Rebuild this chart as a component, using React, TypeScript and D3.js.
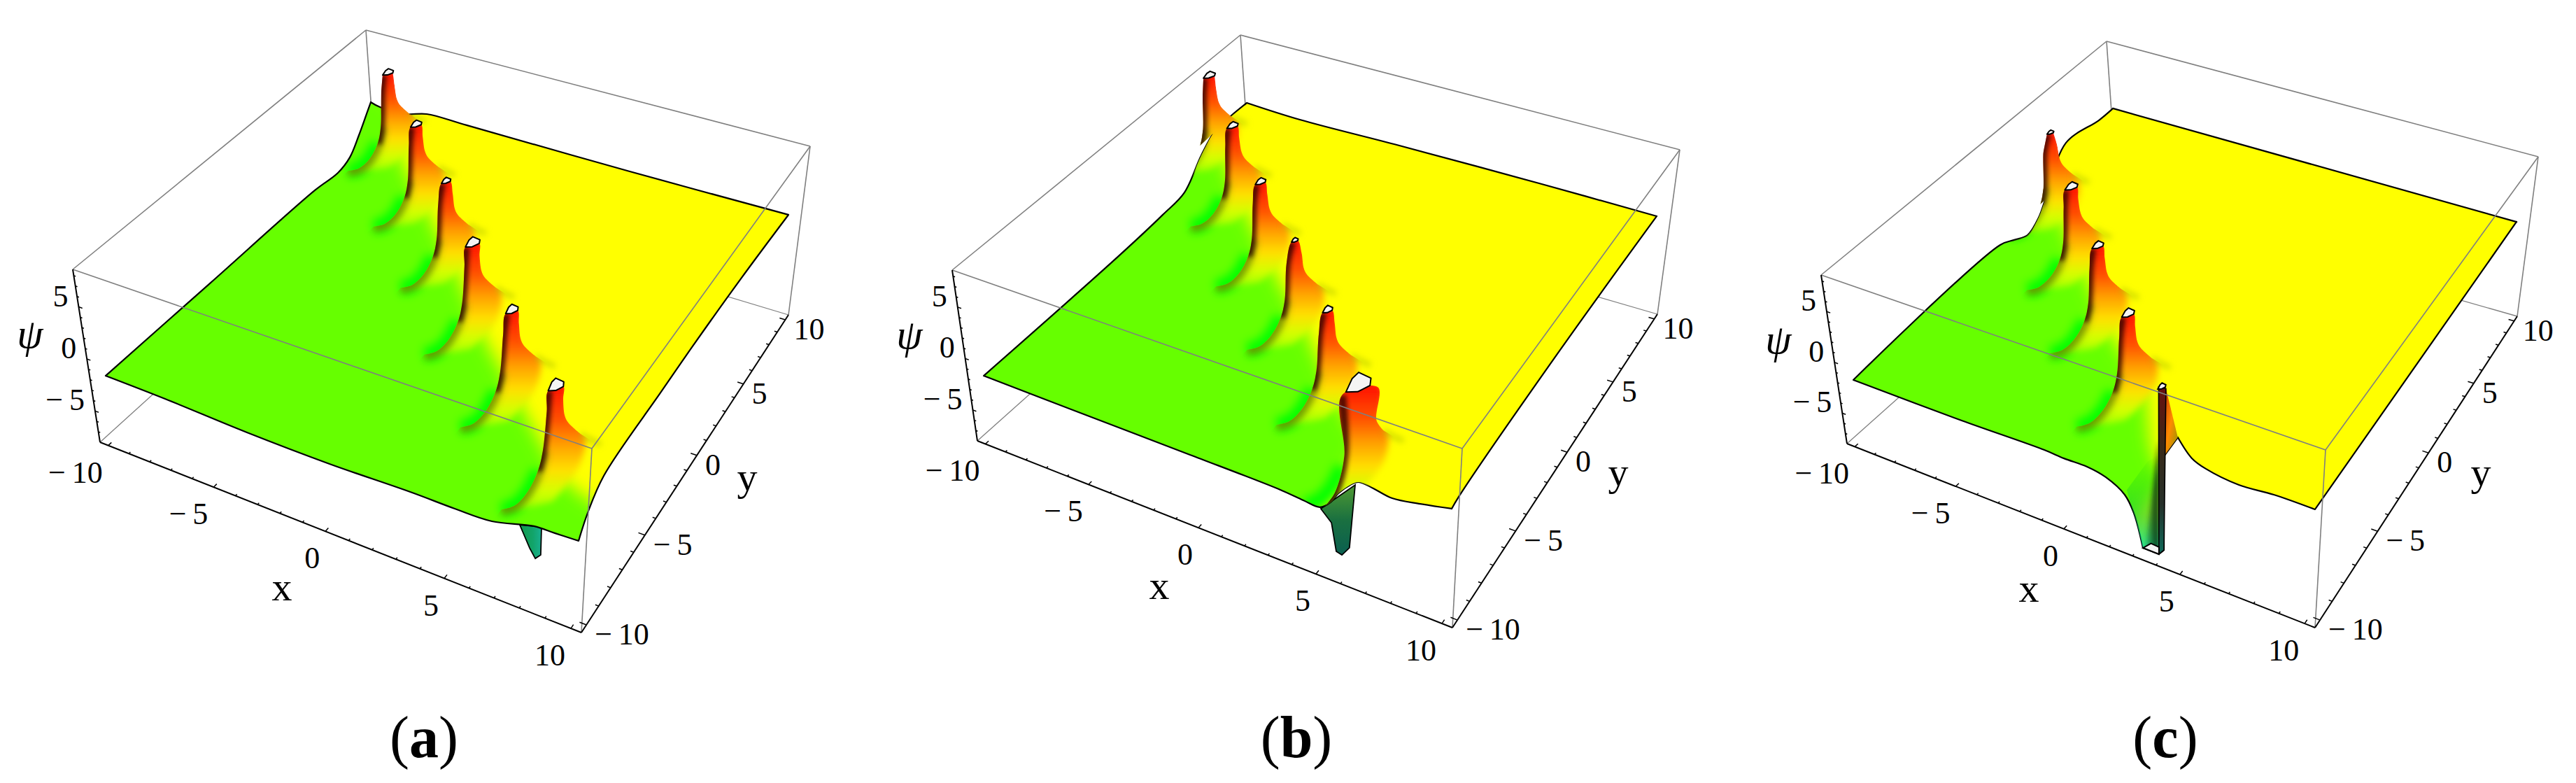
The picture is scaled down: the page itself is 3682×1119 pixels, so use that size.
import * as d3 from "d3";

type Pt = [number, number];
type Triple = [number, number, number];

// plot box of every panel (A-D top face, a-d bottom face)
const FRAMES: Record<string, Record<string, Pt>> = {
  a: { A: [104, 385], B: [846, 641], C: [1158, 209], D: [523, 43], a: [143, 632], b: [831, 904], c: [1127, 450], d: [539, 273] },
  b: { A: [1361, 386], B: [2090, 641], C: [2401, 214], D: [1773, 50], a: [1397, 630], b: [2076, 897], c: [2369, 449], d: [1789, 280] },
  c: { A: [2603, 393], B: [3324, 643], C: [3628, 224], D: [3011, 59], a: [2640, 634], b: [3309, 897], c: [3598, 452], d: [3027, 289] },
};

const xyDomain: Pt = [-10.4, 10.4];
const psiDomain: Pt = [-8, 8.6];
const axisTicks = [-10, -5, 0, 5, 10];
const psiTicks = [-5, 0, 5];

// panel (a): [x, psi] along y=-10, [y, psi] along x=10, [x, psi] along y=10, [y, psi] along x=-10
const frontA: Pt[] = [[-9.97, -1.85], [-7.19, -1.94], [-3.51, -2.23], [0.06, -2.28], [3.49, -2.07], [5.2, -2.08], [6.66, -1.96], [8.26, -0.99], [9.05, -0.92], [9.94, -0.82]];
const rightA: Pt[] = [[-10.14, -0.53], [-9.5, 0.93], [-8.29, 2.34], [-3.48, 2.6], [-0.45, 2.7], [4.48, 2.6], [9.9, 2.18]];
const backA: Pt[] = [[-10.15, 1.7], [-9.67, 1.45], [-8.31, 1.47], [-7.2, 2.08], [-5.16, 2.07], [2.8, 1.98], [9.97, 2.05]];
const leftA: Pt[] = [[-9.97, -1.92], [-3.18, -1.86], [4.77, -1.78], [6.67, -2.05], [7.72, -1.57], [8.6, -0.19], [9.42, 1.34], [9.77, 2.0]];
const tipsA: Pt[] = [[-7.61, 7.59], [-4.43, 4.42], [-1.29, 1.24], [1.61, -1.99], [4.78, -5.0], [7.99, -8.05]];
const ridgeA: Pt[] = [[13, -9], [10, -8.6], [8.26, -7.94], [5.05, -4.89], [1.88, -1.88], [-1.02, 1.35], [-4.16, 4.53], [-7.34, 7.7], [-9.5, 11.5], [-14, 14], [-14, -14], [13, -14]];
const spikeA: Pt[] = [[7.73, -1.34], [8.13, -3.09], [8.36, -3.84], [8.56, -3.33], [8.55, -0.8]];

// panel (b)
const frontB: Pt[] = [[-9.96, -1.9], [-5.39, -2.0], [-0.49, -2.08], [3.32, -2.19], [4.26, -2.37], [4.94, -2.43], [5.36, -1.6], [5.67, -0.48], [6.13, 0.72], [6.45, 1.27], [7.02, 1.18], [7.75, 0.91], [8.81, 1.34], [9.97, 1.95]];
const rightB: Pt[] = [[-10.07, 2.09], [-9.53, 2.3], [-0.73, 2.71], [9.72, 2.44]];
const backB: Pt[] = [[-10.05, 2.17], [-7.22, 1.93], [-2.12, 2.07], [4.61, 2.12], [9.92, 2.06]];
const leftB: Pt[] = [[-9.96, -1.99], [-0.78, -1.79], [2.57, -1.52], [4.34, -1.19], [5.89, 0.96], [7.22, 2.24], [8.56, 2.32], [9.92, 2.27]];
const tipsB: Pt[] = [[-9.7, 6.61], [-6.61, 3.44], [-3.4, 0.27], [-0.19, -2.65], [2.99, -5.89], [5.9, -9.03]];
const ridgeB: Pt[] = [[5.7, -14], [5.7, -9.6], [5.2, -7.5], [3.26, -5.78], [0.08, -2.54], [-3.13, 0.38], [-6.34, 3.55], [-9.43, 6.72], [-12, 10], [-14, 14], [-14, -14]];
const spikeB: Pt[] = [[4.97, -2.54], [5.4, -3.48], [5.6, -6.0], [5.83, -6.13], [6.13, -5.19], [6.32, 0.88]];

// panel (c)
const frontC: Pt[] = [[-9.94, -1.95], [-4.76, -1.97], [-1.02, -1.83], [-0.16, -1.94], [0.84, -1.91], [1.64, -2.25], [2.44, -3.26], [2.82, -4.68], [3.21, -7.71], [3.89, -7.71], [4.1, -7.13], [4.07, 1.83], [4.62, 4.11], [5.19, 2.6], [5.75, 2.08], [7.06, 1.69], [8.41, 1.96], [9.97, 1.98]];
const frontBreaksC = [8, 9, 10, 11, 12];
const rightC: Pt[] = [[-10.06, 2.11], [9.81, 2.28]];
const backC: Pt[] = [[-10.05, 2.24], [9.95, 2.01]];
const leftC: Pt[] = [[-9.94, -2.07], [0.24, -1.43], [1.27, -2.1], [2.27, -2.73], [3.23, -2.0], [3.97, -0.59], [5.85, 2.87], [8.66, 2.34], [9.92, 2.33]];
const tipsC: Pt[] = [[-8.37, 2.39], [-5.4, -0.74], [-2.33, -3.79], [0.87, -6.98]];
const ridgeC: Pt[] = [[4.3, -14], [4.3, -10.3], [2.93, -8.94], [1.02, -6.1], [-2.06, -3.68], [-5.13, -0.63], [-8.24, 2.36], [-12, 5], [-14, 14], [-14, -14]];
const tipLastC: Pt = [4.01, -10.07];
const columnC: Pt[] = [[3.84, 8.3], [4.13, 8.36], [4.1, -7.13], [3.89, -7.71]];
const wedgeC: Pt[] = [[4.13, 8.36], [4.62, 4.11], [4.07, 1.83]];
const fanC: Pt[] = [[2.53, -2.73], [3.21, -7.71], [3.89, -7.71], [3.86, 1.8], [3.4, 0.74]];
const fanShadeC: Pt[] = [[3.3, -7.71], [3.89, -7.71], [3.86, 3.2]];
const floorCapC: Pt[] = [[3.21, -7.71], [3.55, -6.98], [3.89, -7.04], [3.89, -7.71]];

// peak profile: [dx, dy, psi] measured from the clipped tip
const leftFlank: Triple[] = [[-0.08, -0.34, 8.6], [0, -0.67, 7.2], [0, -0.87, 3.9], [0, -1.2, 2.6], [-0.05, -1.87, 1.7], [-0.2, -2.52, 1.4], [-0.5, -2.9, 1.4]];
const rightFlank: Triple[] = [[0.21, 0.03, 8.6], [0.28, 0, 7.5], [0.36, 0, 6.1], [0.5, 0, 5.55], [0.98, 0, 4.9]];
const closure: Triple[] = [[0.7, 0.33, 1.4], [0.68, -1.62, 1.4]];
const clipOuter: Triple[] = [[3, 1, 1.4], [3, -5, 1.4], [-0.5, -5, 1.4]];
const tail: Triple[] = [[0.98, 0, 4.9], [1.3, 0.05, 4.6], [1.7, 0.1, 4.4]];
const capShape: Pt[] = [[-0.08, -0.34], [-0.16, 0.05], [-0.14, 0.26], [0.13, 0.22], [0.21, 0.03], [0.1, -0.23]];
const leftFlankWide: Triple[] = [[-0.1, -0.45, 8.6], [0, -1, 3.3], [0, -1.67, 0.9], [0, -2.33, 0.8]];
const rightFlankWide: Triple[] = [[0.36, 0.05, 8.6], [0.7, 0, 5.65], [0.98, 0, 4.93]];
const widthsA = [1, 1, 0.8, 1.2, 1, 1.2];
const widthsB = [1.1, 1, 0.9, 0.55, 0.8, 1.9];
const widthsC = [0.6, 1.1, 0.95, 1];

const line = d3.line<Pt>().curve(d3.curveCatmullRom.alpha(0.5));
const straight = d3.line<Pt>();

function quad(q: Pt[]) {
  const [p0, p1, p2, p3] = q;
  const dx1 = p1[0] - p2[0], dx2 = p3[0] - p2[0], sx = p0[0] - p1[0] + p2[0] - p3[0];
  const dy1 = p1[1] - p2[1], dy2 = p3[1] - p2[1], sy = p0[1] - p1[1] + p2[1] - p3[1];
  const det = dx1 * dy2 - dx2 * dy1;
  const g = (sx * dy2 - dx2 * sy) / det, h = (dx1 * sy - sx * dy1) / det;
  const a = p1[0] - p0[0] + g * p1[0], b = p3[0] - p0[0] + h * p3[0];
  const d = p1[1] - p0[1] + g * p1[1], e = p3[1] - p0[1] + h * p3[1];
  return (u: number, v: number): Pt => {
    const w = g * u + h * v + 1;
    return [(a * u + b * v + p0[0]) / w, (d * u + e * v + p0[1]) / w];
  };
}

const uScale = d3.scaleLinear().domain(xyDomain).range([0, 1]);
const tScale = d3.scaleLinear().domain(psiDomain).range([0, 1]);

function makeProjection(f: Record<string, Pt>) {
  const top = quad([f.A, f.B, f.C, f.D]);
  const bottom = quad([f.a, f.b, f.c, f.d]);
  return (x: number, y: number, z: number): Pt => {
    const p = top(uScale(x), uScale(y));
    const q = bottom(uScale(x), uScale(y));
    const t = tScale(z);
    return [q[0] + (p[0] - q[0]) * t, q[1] + (p[1] - q[1]) * t];
  };
}

const joined = (parts: string[]) => parts.map((d, i) => (i ? d.replace(/^M/, "L") : d)).join("") + "Z";

const GRAY = "#7f7f7f";

function flankOf(pr: any, tip: Pt, width: number, profile: Triple[]): Pt[] {
  return profile.map((p, i) => {
    const k = i < 1 ? width : 1;
    return pr(tip[0] + p[0] * k, tip[1] + p[1] * k, p[2]);
  });
}

function splitAt(list: Pt[], breaks: number[]): Pt[][] {
  const cuts = [0, ...breaks, list.length - 1];
  return cuts.slice(1).map((c, i) => list.slice(cuts[i], c + 1));
}

function Peak({ id, pr, tip, width, outline, left = leftFlank, right = rightFlank }: any) {
  const l = flankOf(pr, tip, width, left);
  const r = flankOf(pr, tip, width, right);
  const close: Pt[] = closure.map((p) => pr(tip[0] + p[0], tip[1] + p[1], p[2]));
  const outer: Pt[] = clipOuter.map((p) => pr(tip[0] + p[0], tip[1] + p[1], p[2]));
  const upper = [...l.slice().reverse(), ...r];
  const body = line([...upper, ...close]) + "Z";
  const hard = joined([line(upper)!, straight(outer)!]);
  const column = straight([...l.slice(0, 4).reverse(), ...r]) + "Z";
  const cap = capShape.map((p) => pr(tip[0] + p[0] * width, tip[1] + p[1] * width, psiDomain[1]));
  const spot = tail.map((p) => pr(tip[0] + p[0], tip[1] + p[1], p[2]));
  return (
    <g>
      <clipPath id={id}>
        <path d={hard} />
      </clipPath>
      {/* the foot stays on the surface, only the upper column may stick out of it */}
      <clipPath id={`${id}-on`}>
        <path d={outline} />
        <path d={column} />
      </clipPath>
      <g clipPath={`url(#${id}-on)`}>
        <g clipPath={`url(#${id})`}>
          <path d={body} fill="url(#bodyGrad)" stroke="url(#bodyGrad)" strokeWidth={12} filter="url(#blur5)" />
          <path d={line(l.slice(2))!} fill="none" stroke="#3c6400" strokeOpacity={0.6} strokeWidth={16} filter="url(#blur5)" />
          <path d={line(l.slice(0, 4))!} fill="none" stroke="#240800" strokeOpacity={0.8} strokeWidth={12} filter="url(#blur3)" />
        </g>
        <path d={line(spot)!} fill="none" stroke="#a9bf00" strokeOpacity={0.55} strokeWidth={7} filter="url(#blur4)" />
      </g>
      <path d={straight(cap) + "Z"} fill="#f4f4f4" stroke="#000" strokeWidth={2} strokeLinejoin="round" />
    </g>
  );
}

function Panel({ name, fronts, right, back, left, ridge, tips, widths, caption, captionX, behind, over, overClipped, lastPeak }: any) {
  const f = FRAMES[name];
  const pr = makeProjection(f);
  const R = xyDomain[1];
  const outline = joined([
    ...fronts.map((part: Pt[]) => line(part.map((p) => pr(p[0], -10, p[1])))!),
    line(right.map((p: Pt) => pr(10, p[0], p[1])))!,
    line(back.slice().reverse().map((p: Pt) => pr(p[0], 10, p[1])))!,
    line(left.slice().reverse().map((p: Pt) => pr(-10, p[0], p[1])))!,
  ]);
  const green = straight(ridge.map((p: Pt) => pr(p[0], p[1], 0))) + "Z";
  const seg = (a: Pt, b: Pt, stroke: string, w = 1.6) => <line x1={a[0]} y1={a[1]} x2={b[0]} y2={b[1]} stroke={stroke} strokeWidth={w} />;
  const tickLine = (a: Pt, b: Pt, key: string) => <line key={key} x1={a[0]} y1={a[1]} x2={b[0]} y2={b[1]} stroke="#000" strokeWidth={1.5} />;
  const minor = d3.range(-10, 11);
  const psiMinor = d3.range(-7, 9);
  const label = (v: number) => (v < 0 ? `\u2212\u2009${-v}` : `${v}`);
  const fontProps = { fontFamily: "'Liberation Serif'", fontSize: 44, fill: "#000" };
  return (
    <g>
      {/* box edges behind the surface */}
      {seg(f.D, f.A, GRAY)}
      {seg(f.D, f.C, GRAY)}
      {seg(f.D, f.d, GRAY)}
      {seg(f.d, f.a, GRAY, 1.3)}
      {seg(f.d, f.c, GRAY, 1.3)}
      {seg(f.C, f.c, GRAY)}
      {behind}
      <clipPath id={`surface-${name}`}>
        <path d={outline} />
      </clipPath>
      <g clipPath={`url(#surface-${name})`}>
        <rect x={0} y={0} width={3682} height={1119} fill="#ffff00" />
        <path d={green} fill="#66ff00" filter="url(#blur12)" />
        {tips.map((tip: Pt, i: number) => (
          <path key={i} d={line(flankOf(pr, tip, 1, leftFlank).slice(3))!} fill="none" stroke="#00ff00" strokeWidth={20} filter="url(#blur7)" />
        ))}
      </g>
      <path d={outline} fill="none" stroke="#000" strokeWidth={2.2} strokeLinejoin="round" />
      {tips.map((tip: Pt, i: number) => (
        <Peak key={i} id={`peak-${name}-${i}`} pr={pr} tip={tip} width={widths[i]} outline={outline}
          {...(lastPeak && i === tips.length - 1 ? lastPeak : {})} />
      ))}
      <g clipPath={`url(#surface-${name})`}>{overClipped}</g>
      {over}
      {/* box edges in front of it */}
      {seg(f.A, f.B, GRAY)}
      {seg(f.B, f.C, GRAY)}
      {seg(f.B, f.b, GRAY)}
      {/* axes */}
      {seg(f.A, f.a, "#000", 2)}
      {seg(f.a, f.b, "#000", 2)}
      {seg(f.b, f.c, "#000", 2)}
      {minor.map((v) => tickLine(pr(v, -R, psiDomain[0]), pr(v, -R + (v % 5 === 0 ? 0.2 : 0.1), psiDomain[0]), `x${v}`))}
      {minor.map((v) => tickLine(pr(R, v, psiDomain[0]), pr(R - (v % 5 === 0 ? 0.26 : 0.13), v, psiDomain[0]), `y${v}`))}
      {psiMinor.map((v) => tickLine(pr(-R, -R, v), pr(-R + (v % 5 === 0 ? 0.17 : 0.09), -R, v), `z${v}`))}
      {axisTicks.map((v) => {
        const p = pr(v, -R, psiDomain[0]);
        return <text key={v} x={p[0] - 8} y={p[1] + 53} textAnchor="end" {...fontProps}>{label(v)}</text>;
      })}
      {axisTicks.map((v) => {
        const p = pr(R, v, psiDomain[0]);
        return <text key={v} x={p[0] + 12} y={p[1] + 28} textAnchor="start" {...fontProps}>{label(v)}</text>;
      })}
      {psiTicks.map((v) => {
        const p = pr(-R, -R, v);
        return <text key={v} x={p[0] - 15} y={p[1] - 1} textAnchor="end" {...fontProps}>{label(v)}</text>;
      })}
      <text x={f.a[0] + 260} y={f.a[1] + 226} textAnchor="middle" {...fontProps} fontSize={58}>x</text>
      <text x={f.b[0] + 237} y={f.b[1] - 203} textAnchor="middle" {...fontProps} fontSize={58}>y</text>
      <text x={f.A[0] - 61} y={f.A[1] + 112} textAnchor="middle" {...fontProps} fontSize={60} fontStyle="italic">ψ</text>
      <text x={captionX} y={1082} textAnchor="middle" {...fontProps} fontSize={84}>
        (<tspan fontWeight="bold">{caption}</tspan>)
      </text>
    </g>
  );
}

export default function App() {
  const prA = makeProjection(FRAMES.a);
  const prB = makeProjection(FRAMES.b);
  const prC = makeProjection(FRAMES.c);
  const onFront = (pr: any, list: Pt[]) => straight(list.map((p) => pr(p[0], -10, p[1]))) + "Z";
  return (
    <svg width={3682} height={1119} style={{ position: "absolute", left: 0, top: 0, background: "#fff" }}>
      <defs>
        {[[3, "blur3"], [4, "blur4"], [5, "blur5"], [7, "blur7"], [12, "blur12"]].map(([s, id]) => (
          <filter key={id} id={id as string} filterUnits="userSpaceOnUse" x={0} y={0} width={3682} height={1119}>
            <feGaussianBlur stdDeviation={s as number} />
          </filter>
        ))}
        <linearGradient id="bodyGrad" x1="0" y1="0" x2="0" y2="1">
          <stop offset="0" stopColor="#ff1000" />
          <stop offset="0.28" stopColor="#ff5200" />
          <stop offset="0.48" stopColor="#ffa000" />
          <stop offset="0.68" stopColor="#ffe000" />
          <stop offset="0.85" stopColor="#d4ff00" />
          <stop offset="1" stopColor="#9cff00" />
        </linearGradient>
        <linearGradient id="spikeGradA" x1="0" y1="0" x2="1" y2="0">
          <stop offset="0" stopColor="#129a4c" />
          <stop offset="0.6" stopColor="#12a46a" />
          <stop offset="1" stopColor="#18b090" />
        </linearGradient>
        <linearGradient id="spikeGradB" x1="0" y1="0" x2="0" y2="1">
          <stop offset="0" stopColor="#4f9a32" />
          <stop offset="0.5" stopColor="#1a7040" />
          <stop offset="1" stopColor="#0a5f50" />
        </linearGradient>
        <linearGradient id="columnGrad" x1="0" y1="0" x2="0" y2="1">
          <stop offset="0" stopColor="#6a0f0f" />
          <stop offset="0.35" stopColor="#3a2a18" />
          <stop offset="0.7" stopColor="#26302a" />
          <stop offset="1" stopColor="#0f6a5a" />
        </linearGradient>
        <linearGradient id="wedgeGrad" x1="0" y1="0" x2="1" y2="1">
          <stop offset="0" stopColor="#c03000" />
          <stop offset="0.5" stopColor="#ff8a00" />
          <stop offset="1" stopColor="#8a9a00" />
        </linearGradient>
        <linearGradient id="fanGrad" x1="0" y1="0" x2="0" y2="1">
          <stop offset="0" stopColor="#00c000" stopOpacity={0} />
          <stop offset="0.6" stopColor="#00c050" stopOpacity={0.5} />
          <stop offset="1" stopColor="#20f0b0" />
        </linearGradient>
        <linearGradient id="fanDark" x1="0" y1="0" x2="1" y2="0">
          <stop offset="0" stopColor="#003a20" stopOpacity={0.15} />
          <stop offset="1" stopColor="#001a10" stopOpacity={0.95} />
        </linearGradient>
      </defs>
      <Panel name="a" fronts={[frontA]} right={rightA} back={backA} left={leftA} ridge={ridgeA} tips={tipsA} widths={widthsA} caption="a" captionX={606}
        behind={<path d={onFront(prA, spikeA)} fill="url(#spikeGradA)" stroke="#000" strokeWidth={1.8} />} />
      <Panel name="b" fronts={[frontB]} right={rightB} back={backB} left={leftB} ridge={ridgeB} tips={tipsB} widths={widthsB} caption="b" captionX={1853}
        lastPeak={{ left: leftFlankWide, right: rightFlankWide }}
        behind={<path d={onFront(prB, spikeB)} fill="url(#spikeGradB)" stroke="#000" strokeWidth={1.8} />} />
      <Panel name="c" fronts={splitAt(frontC, frontBreaksC)} right={rightC} back={backC} left={leftC} ridge={ridgeC} tips={tipsC} widths={widthsC} caption="c" captionX={3095}
        overClipped={
          <g>
            <path d={onFront(prC, fanC)} fill="url(#fanGrad)" />
            <path d={onFront(prC, fanShadeC)} fill="url(#fanDark)" filter="url(#blur3)" />
          </g>
        }
        over={
          <g>
            <path d={onFront(prC, wedgeC)} fill="url(#wedgeGrad)" />
            <path d={onFront(prC, columnC)} fill="url(#columnGrad)" stroke="#000" strokeWidth={1.6} />
            <path d={onFront(prC, floorCapC)} fill="#f4f4f4" stroke="#000" strokeWidth={2} />
            <path d={straight(capShape.map((p) => prC(tipLastC[0] + p[0] * 0.6, tipLastC[1] + p[1] * 0.6, psiDomain[1]))) + "Z"} fill="#f4f4f4" stroke="#000" strokeWidth={2} />
          </g>
        } />
    </svg>
  );
}
